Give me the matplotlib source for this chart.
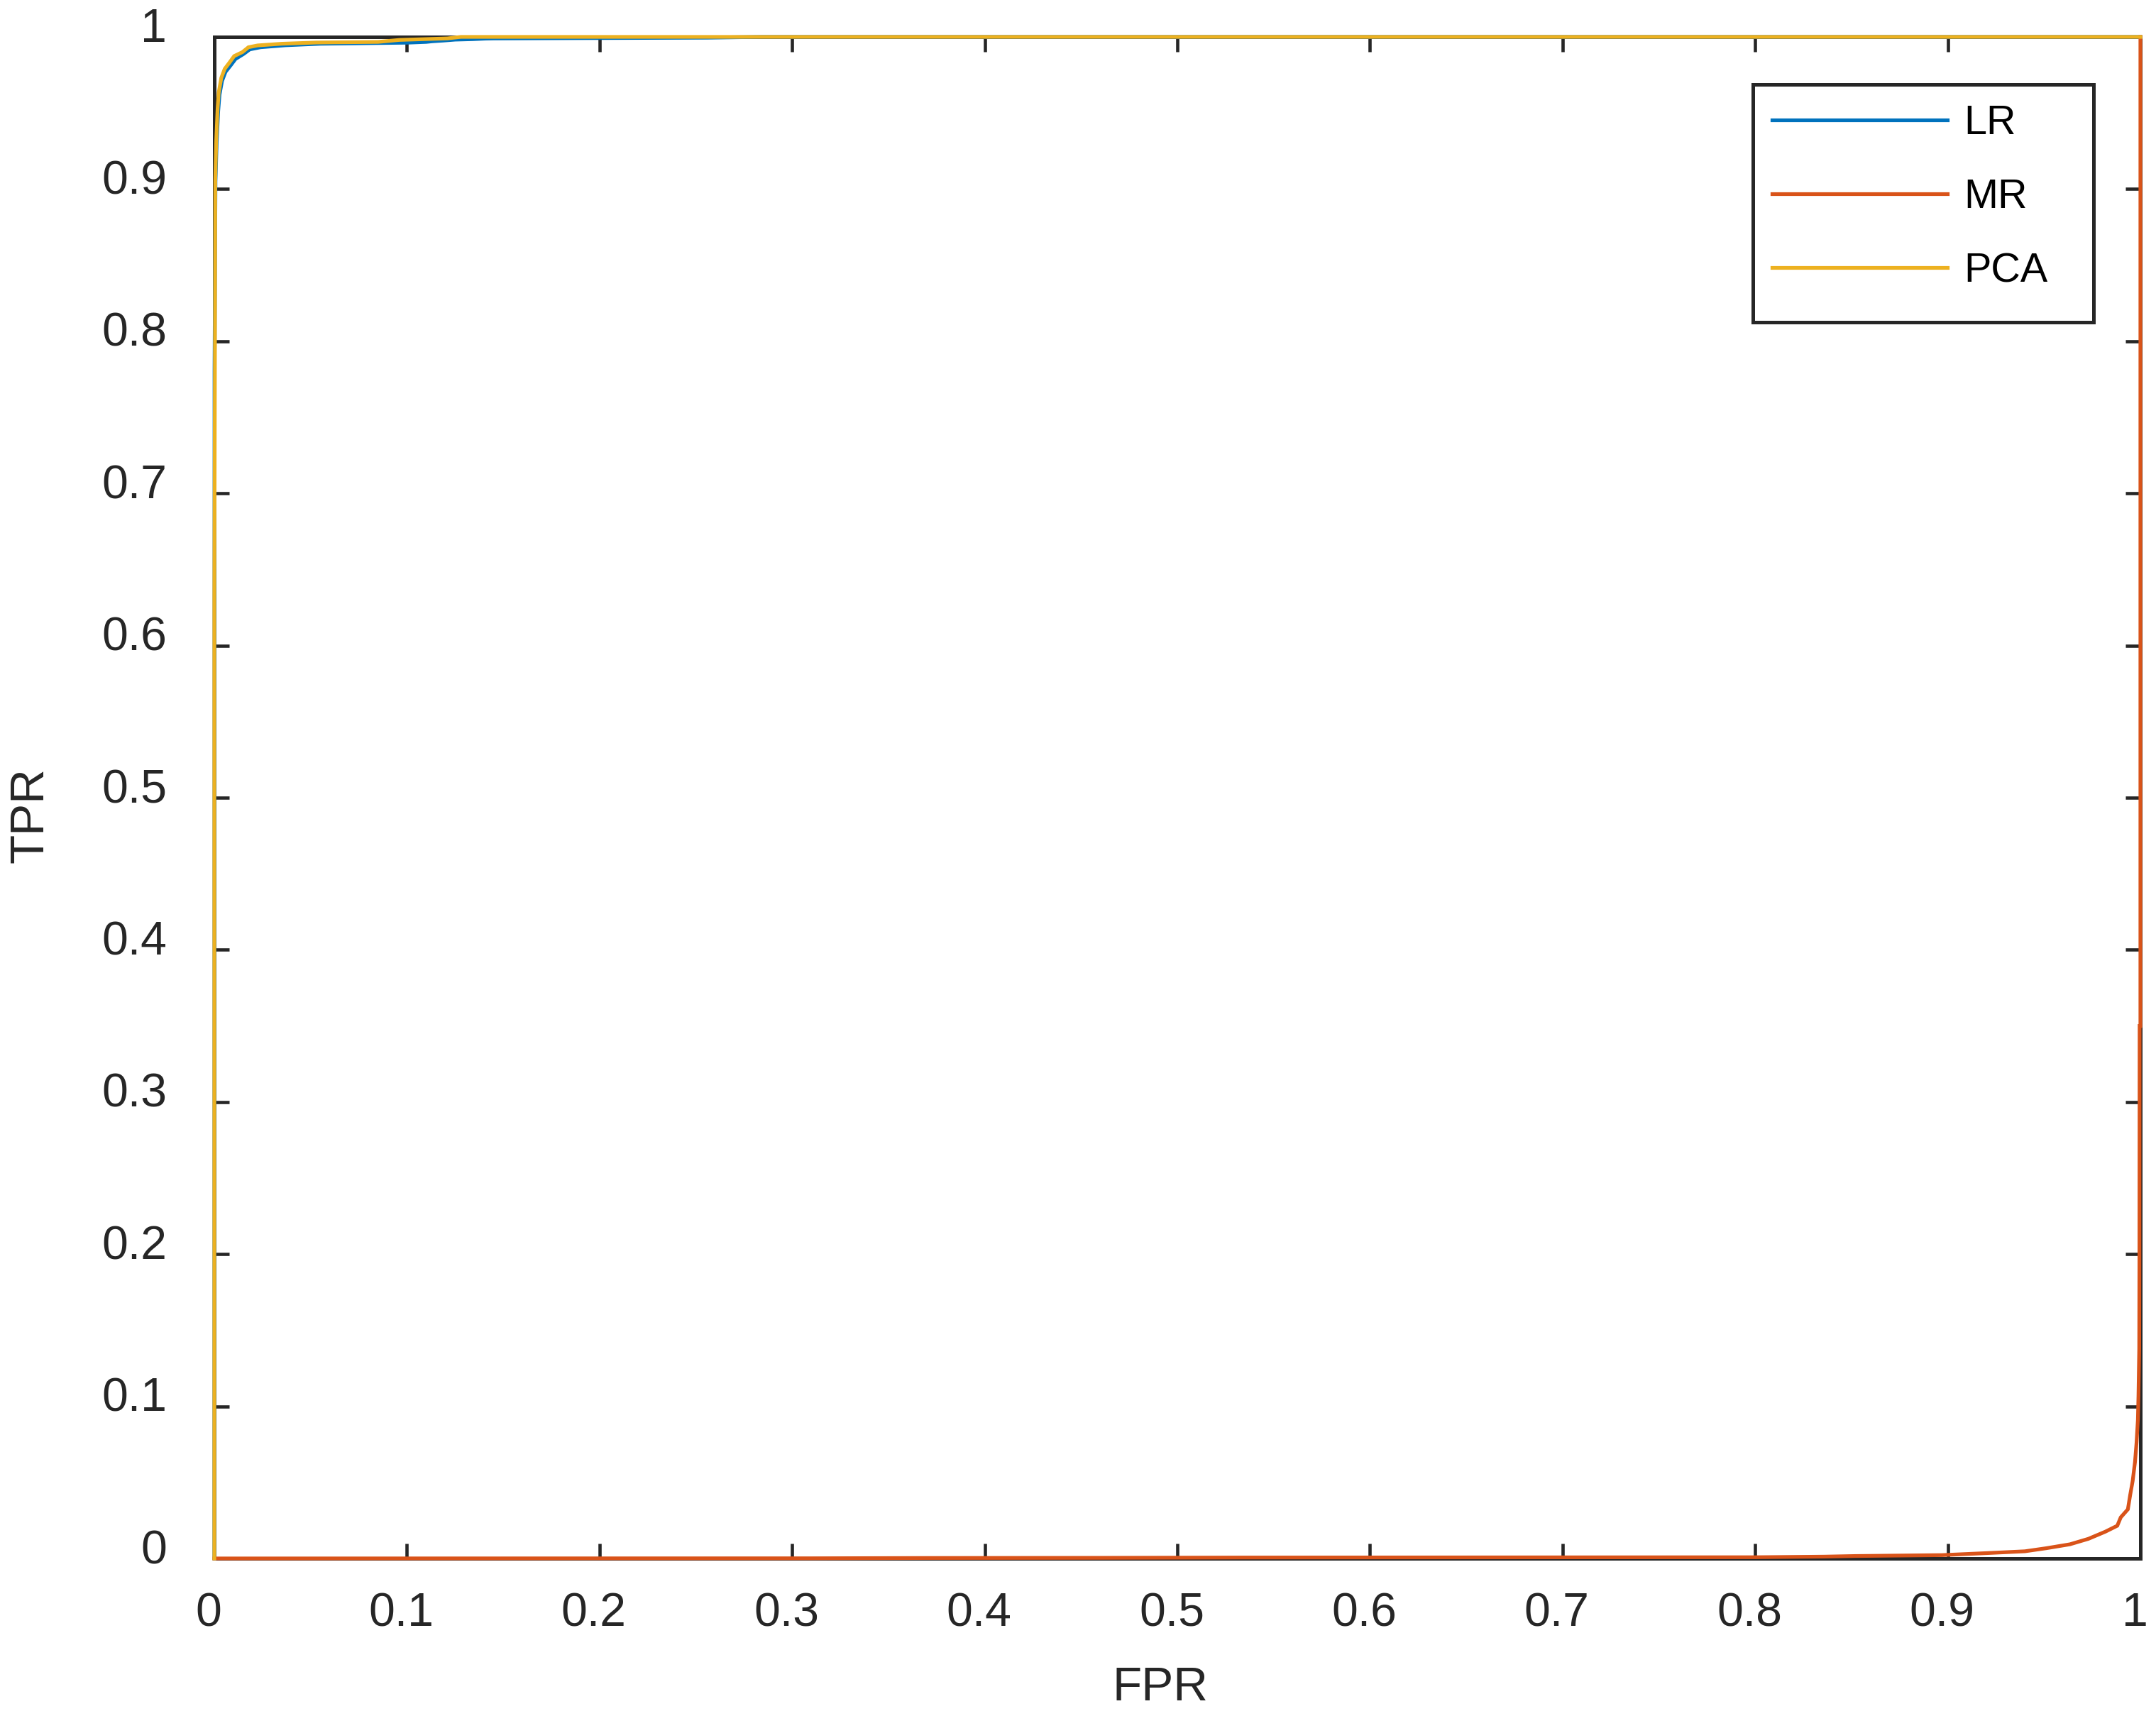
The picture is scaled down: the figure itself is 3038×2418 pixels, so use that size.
import matplotlib
matplotlib.use('Agg')
import matplotlib.pyplot as plt
from matplotlib.transforms import ScaledTranslation
from matplotlib.patches import Rectangle

plt.rcParams['font.family'] = ['Liberation Sans', 'DejaVu Sans']

# ---------------- data ----------------
series_labels = ['LR', 'MR', 'PCA']
series_colors = ['#0072BD', '#D95319', '#EDB120']

lr_fpr = [0, 0.0001, 0.0006, 0.0012, 0.002, 0.0027, 0.004, 0.0058, 0.0083, 0.011,
          0.0152, 0.0184, 0.024, 0.037, 0.055, 0.087, 0.100, 0.110, 0.113, 0.119,
          0.125, 0.134, 0.141, 0.145, 0.256, 0.284, 1.0]
lr_tpr = [0, 0.78, 0.905, 0.930, 0.951, 0.962, 0.971, 0.977, 0.981, 0.9855,
          0.9888, 0.9918, 0.9932, 0.9945, 0.9955, 0.996, 0.9962, 0.9967, 0.9971, 0.9976,
          0.9982, 0.9985, 0.9989, 0.9990, 0.9995, 1.0, 1.0]

mr_fpr = [0, 0.31, 0.37, 0.46, 0.535, 0.80, 0.836, 0.852, 0.897, 0.92, 0.94, 0.951,
          0.9634, 0.973, 0.9818, 0.988, 0.9898, 0.9935, 0.9947, 0.996, 0.9972, 0.998,
          0.9987, 0.999, 0.9994, 0.9995, 0.9996, 1.0, 1.0]
mr_tpr = [0, 0.0001, 0.0003, 0.0004, 0.0006, 0.0008, 0.0012, 0.0016, 0.0022, 0.0035,
          0.0047, 0.0067, 0.0093, 0.0129, 0.0176, 0.0215, 0.027, 0.0323, 0.0417, 0.051,
          0.0634, 0.076, 0.091, 0.107, 0.138, 0.196, 0.35, 0.35, 1.0]

pca_fpr = [0, 0, 0.0003, 0.0005, 0.001, 0.0017, 0.0023, 0.0036, 0.0054, 0.0078,
           0.0103, 0.0146, 0.0177, 0.0225, 0.035, 0.053, 0.085, 0.096, 0.121, 0.128, 1.0]
pca_tpr = [0, 0.63, 0.78, 0.906, 0.932, 0.953, 0.9636, 0.973, 0.979, 0.983,
           0.9874, 0.990, 0.9932, 0.9944, 0.9955, 0.9963, 0.9967, 0.998, 0.999, 1.0, 1.0]

tick_values = [0, 0.1, 0.2, 0.3, 0.4, 0.5, 0.6, 0.7, 0.8, 0.9, 1]
tick_labels = ['0', '0.1', '0.2', '0.3', '0.4', '0.5', '0.6', '0.7', '0.8', '0.9', '1']
x_label = 'FPR'
y_label = 'TPR'

# ---------------- figure ----------------
DPI = 300
fig = plt.figure(figsize=(3038 / DPI, 2418 / DPI), dpi=DPI)
ax = fig.add_axes([302 / 3038, 1 - 2196 / 2418, (3016 - 302) / 3038, (2196 - 52) / 2418])

axc = '#262626'
lw = 1.25
handles = []
for xs, ys, c, lab in [(lr_fpr, lr_tpr, series_colors[0], series_labels[0]),
                       (mr_fpr, mr_tpr, series_colors[1], series_labels[1]),
                       (pca_fpr, pca_tpr, series_colors[2], series_labels[2])]:
    h, = ax.plot(xs, ys, color=c, lw=lw, label=lab, zorder=3, clip_on=False,
                 solid_joinstyle='miter')
    handles.append(h)

ax.set_xlim(0, 1)
ax.set_ylim(0, 1)
ax.set_xticks(tick_values)
ax.set_xticklabels(tick_labels)
ax.set_yticks(tick_values)
ax.set_yticklabels(tick_labels)

for s in ax.spines.values():
    s.set_color(axc)
    s.set_linewidth(1.2)

ax.tick_params(direction='in', length=5, width=1.1, top=True, right=True,
               colors=axc, labelsize=15.9)
ax.tick_params(axis='y', pad=16)
ax.tick_params(axis='x', pad=11.3)

offx = ScaledTranslation(-8 / DPI, 0, fig.dpi_scale_trans)
for lab in ax.get_xticklabels():
    lab.set_transform(lab.get_transform() + offx)
offy = ScaledTranslation(0, 17 / DPI, fig.dpi_scale_trans)
for lab in ax.get_yticklabels():
    lab.set_transform(lab.get_transform() + offy)

ax.set_xlabel(x_label, fontsize=16.2, color=axc, va='center')
ax.set_ylabel(y_label, fontsize=16.2, color=axc, va='center')
ax.xaxis.set_label_coords((1635 - 302) / 2714, (2196 - 2379) / 2144)
ax.yaxis.set_label_coords((44 - 302) / 2714, (2196 - 1149) / 2144)

# legend
leg = ax.legend(handles, series_labels, loc='upper left',
                bbox_to_anchor=((2497 - 302) / 2714, (2196 - 147) / 2144),
                frameon=False, borderpad=0, borderaxespad=0, handlelength=4.3,
                handletextpad=0.4, labelspacing=0.87, fontsize=13.8)
for t in leg.get_texts():
    t.set_color('black')
for lh in leg.get_lines():
    lh.set_linewidth(lw)

x0 = (2470 - 302) / 2714
x1 = (2950 - 302) / 2714
y1 = (2196 - 119) / 2144
y0 = (2196 - 454) / 2144
ax.add_patch(Rectangle((x0, y0), x1 - x0, y1 - y0, transform=ax.transAxes,
                       facecolor='white', edgecolor=axc, lw=1.2, zorder=4))
leg.set_zorder(5)

fig.savefig('out.png', dpi=DPI)
